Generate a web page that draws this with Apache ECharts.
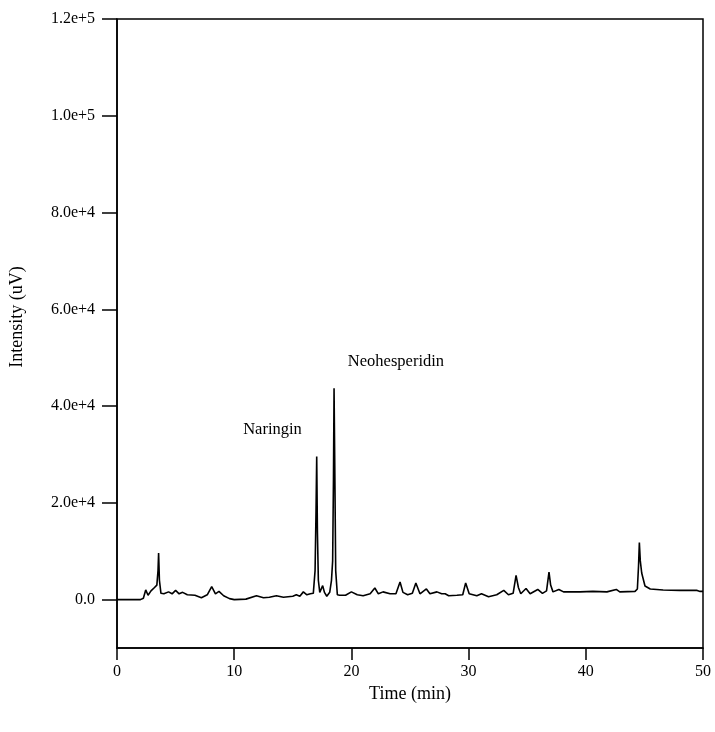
<!DOCTYPE html>
<html>
<head>
<meta charset="utf-8">
<script src="https://cdn.jsdelivr.net/npm/echarts@6/dist/echarts.min.js"></script>
<style>html,body{margin:0;padding:0;background:#fff;}#c{width:715px;height:732px;}</style>
</head>
<body>
<div id="c"></div>
<script>
var timeMin = [0, 1, 2, 2.25, 2.45, 2.65, 2.9, 3.2, 3.4, 3.5, 3.55, 3.62, 3.75, 4.0, 4.4, 4.7, 5.0, 5.3, 5.6, 6.0, 6.65, 7.2, 7.7, 8.08, 8.4, 8.7, 9.1, 9.6, 10.0, 11.0, 11.9, 12.5, 13.0, 13.6, 14.2, 15.0, 15.3, 15.6, 15.9, 16.2, 16.5, 16.75, 16.9, 16.98, 17.04, 17.1, 17.18, 17.3, 17.55, 17.7, 17.9, 18.15, 18.3, 18.4, 18.47, 18.52, 18.58, 18.66, 18.8, 19.0, 19.5, 20.0, 20.5, 21.0, 21.6, 22.0, 22.3, 22.7, 23.3, 23.8, 24.15, 24.4, 24.8, 25.2, 25.5, 25.85, 26.4, 26.7, 27.3, 27.7, 28.0, 28.3, 29.0, 29.5, 29.75, 30.05, 30.7, 31.1, 31.7, 32.4, 33.0, 33.4, 33.8, 34.05, 34.25, 34.45, 34.9, 35.25, 35.9, 36.3, 36.65, 36.86, 37.0, 37.2, 37.7, 38.1, 39.5, 40.6, 41.8, 42.6, 42.9, 44.2, 44.4, 44.5, 44.57, 44.65, 44.77, 45.05, 45.5, 46.6, 48.0, 49.5, 49.75, 50];
var intensity = [0, 0, 0, 300, 2000, 900, 1800, 2500, 3000, 6000, 9650, 4000, 1300, 1200, 1600, 1200, 1900, 1200, 1500, 1000, 900, 400, 1000, 2700, 1200, 1700, 800, 200, 0, 100, 800, 400, 500, 800, 500, 700, 1000, 700, 1600, 1000, 1200, 1300, 6000, 18000, 29600, 14000, 4000, 1500, 2900, 1500, 700, 1500, 4000, 8000, 25000, 43700, 28000, 6000, 1000, 900, 900, 1600, 1000, 800, 1200, 2400, 1200, 1600, 1200, 1200, 3650, 1500, 1000, 1300, 3450, 1200, 2200, 1200, 1600, 1200, 1200, 800, 900, 1000, 3450, 1200, 800, 1200, 600, 1000, 1900, 1000, 1300, 5000, 2500, 1200, 2300, 1200, 2100, 1300, 1800, 5700, 3000, 1600, 2100, 1600, 1600, 1700, 1600, 2100, 1600, 1700, 2200, 7000, 11800, 8000, 5500, 2800, 2200, 2000, 1900, 1900, 1700, 1700];
var yTickValues = [0, 20000, 40000, 60000, 80000, 100000, 120000];
var yTickLabels = ['0.0', '2.0e+4', '4.0e+4', '6.0e+4', '8.0e+4', '1.0e+5', '1.2e+5'];
var xTickValues = [0, 10, 20, 30, 40, 50];
var peakNames = ['Naringin', 'Neohesperidin'];
var peakLabelAt = [[13.27, 35100], [23.8, 49100]];

var chart = echarts.init(document.getElementById('c'));
var pts = timeMin.map(function (t, i) { return [t, intensity[i]]; });
var font = '"Liberation Serif", "DejaVu Serif", serif';
chart.setOption({
  animation: false,
  backgroundColor: '#fff',
  grid: { left: 117, right: 12, top: 19, bottom: 84, show: true, borderColor: '#000', borderWidth: 1.5, containLabel: false, outerBoundsMode: 'none' },
  graphic: [{
    type: 'text', x: 17, y: 317, rotation: Math.PI / 2,
    style: { text: 'Intensity (uV)', fontFamily: font, fontSize: 18, fill: '#000', align: 'center', verticalAlign: 'middle' }
  }],
  xAxis: {
    type: 'value', min: 0, max: 50, interval: 10,
    name: 'Time (min)', nameLocation: 'middle', nameGap: 36,
    nameTextStyle: { fontFamily: font, fontSize: 18, color: '#000' },
    axisLine: { onZero: false, lineStyle: { color: '#000', width: 1.5 } },
    axisTick: { show: true, length: 12, inside: false, lineStyle: { color: '#000', width: 1.5 }, customValues: xTickValues },
    axisLabel: { fontFamily: font, fontSize: 16, color: '#000', margin: 16, customValues: xTickValues },
    splitLine: { show: false }
  },
  yAxis: {
    type: 'value', min: -10000, max: 120000,
    axisLine: { onZero: false, lineStyle: { color: '#000', width: 1.5 } },
    axisTick: { show: true, length: 15, inside: false, lineStyle: { color: '#000', width: 1.5 }, customValues: yTickValues },
    axisLabel: {
      fontFamily: font, fontSize: 16, color: '#000', margin: 22, customValues: yTickValues,
      formatter: function (v) { var i = yTickValues.indexOf(v); return i >= 0 ? yTickLabels[i] : ''; }
    },
    splitLine: { show: false }
  },
  series: [{
    type: 'line', data: pts, showSymbol: false, smooth: false,
    lineStyle: { color: '#000', width: 1.6 },
    markPoint: {
      symbol: 'circle', symbolSize: 0, silent: true,
      label: { show: true, position: 'inside', fontFamily: font, fontSize: 16.5, color: '#000', formatter: '{b}' },
      data: peakNames.map(function (n, i) { return { name: n, coord: peakLabelAt[i] }; })
    }
  }]
});
</script>
</body>
</html>
